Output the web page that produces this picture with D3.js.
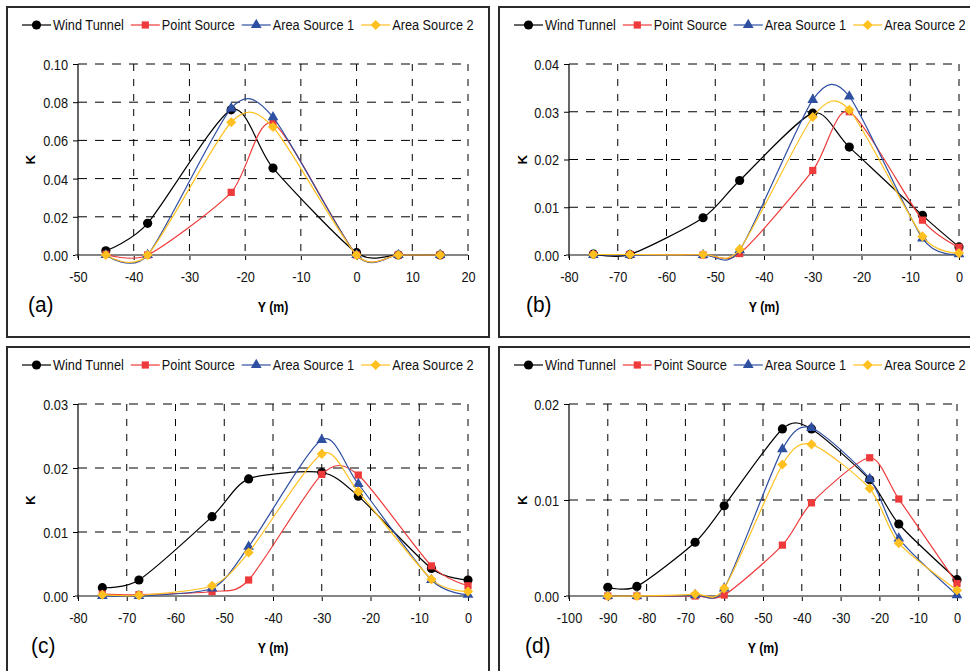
<!DOCTYPE html>
<html>
<head>
<meta charset="utf-8">
<script src="https://cdn.jsdelivr.net/npm/d3@7"></script>
<style>
  body { margin: 0; background: #fff; }
  text { font-family: "Liberation Sans", Arial, sans-serif; }
</style>
</head>
<body>
<script>
// series names (legend order)
const seriesNames = ["Wind Tunnel", "Point Source", "Area Source 1", "Area Source 2"];

// (a)
const yPosA = [-45, -37.5, -22.5, -15, 0, 7.5, 15];
const windA = [0.0022, 0.0166, 0.0760, 0.0455, 0.0012, 0.0, 0.0];
const pointA = [0.0004, 0.0, 0.0328, 0.0690, 0.0, 0.0, 0.0];
const area1A = [0.0, 0.0, 0.0768, 0.0722, 0.0, 0.0, 0.0];
const area2A = [0.0, 0.0, 0.0695, 0.0670, 0.0, 0.0, 0.0];
const xTicksA = [-50, -40, -30, -20, -10, 0, 10, 20];
const yTicksA = [0, 0.02, 0.04, 0.06, 0.08, 0.10];

// (b)
const yPosB = [-75, -67.5, -52.5, -45, -30, -22.5, -7.5, 0];
const windB = [0.0002, 0.0001, 0.0078, 0.0156, 0.0297, 0.0226, 0.0083, 0.0017];
const pointB = [0.0001, 0.0001, 0.0, 0.0003, 0.0177, 0.0300, 0.0073, 0.0016];
const area1B = [0.0, 0.0, 0.0, 0.0010, 0.0325, 0.0332, 0.0035, 0.0002];
const area2B = [0.0001, 0.0001, 0.0001, 0.0012, 0.0289, 0.0304, 0.0039, 0.0004];
const xTicksB = [-80, -70, -60, -50, -40, -30, -20, -10, 0];
const yTicksB = [0, 0.01, 0.02, 0.03, 0.04];

// (c)
const yPosC = [-75, -67.5, -52.5, -45, -30, -22.5, -7.5, 0];
const windC = [0.0013, 0.0025, 0.0124, 0.0183, 0.0193, 0.0156, 0.0043, 0.0025];
const pointC = [0.0003, 0.0002, 0.0007, 0.0025, 0.0190, 0.0189, 0.0047, 0.0016];
const area1C = [0.0, 0.0, 0.0012, 0.0077, 0.0244, 0.0175, 0.0025, 0.0002];
const area2C = [0.0002, 0.0001, 0.0016, 0.0068, 0.0222, 0.0163, 0.0026, 0.0007];
const xTicksC = [-80, -70, -60, -50, -40, -30, -20, -10, 0];
const yTicksC = [0, 0.01, 0.02, 0.03];

// (d)
const yPosD = [-90, -82.5, -67.5, -60, -45, -37.5, -22.5, -15, 0];
const windD = [0.0009, 0.0010, 0.0056, 0.0094, 0.0174, 0.0174, 0.0121, 0.0075, 0.0017];
const pointD = [0.0, 0.0, 0.0, 0.0001, 0.0053, 0.0097, 0.0144, 0.0101, 0.0013];
const area1D = [0.0, 0.0, 0.0001, 0.0008, 0.0153, 0.0175, 0.0122, 0.0060, 0.0001];
const area2D = [0.0, 0.0, 0.0002, 0.0008, 0.0137, 0.0158, 0.0112, 0.0055, 0.0006];
const xTicksD = [-100, -90, -80, -70, -60, -50, -40, -30, -20, -10, 0];
const yTicksD = [0, 0.01, 0.02];

const colors = ["#000000", "#ee3a3a", "#2f4fa2", "#ffc020"];
const FS = 15;
const SX = 0.85; // text in the original is tall and narrow

const panels = [
  { label: "(a)", box: [7, 7], plot: [78, 468, 64, 255], labelX: 28,
    xDomain: [-50, 20], yDomain: [0, 0.10], xTicks: xTicksA, yTicks: yTicksA,
    xs: yPosA, series: [windA, pointA, area1A, area2A] },
  { label: "(b)", box: [499, 7], plot: [569, 959, 64, 255], labelX: 526,
    xDomain: [-80, 0], yDomain: [0, 0.04], xTicks: xTicksB, yTicks: yTicksB,
    xs: yPosB, series: [windB, pointB, area1B, area2B] },
  { label: "(c)", box: [7, 347], plot: [78, 468, 404, 596], labelX: 31,
    xDomain: [-80, 0], yDomain: [0, 0.03], xTicks: xTicksC, yTicks: yTicksC,
    xs: yPosC, series: [windC, pointC, area1C, area2C] },
  { label: "(d)", box: [499, 347], plot: [569, 957, 404, 596], labelX: 525,
    xDomain: [-100, 0], yDomain: [0, 0.02], xTicks: xTicksD, yTicks: yTicksD,
    xs: yPosD, series: [windD, pointD, area1D, area2D] },
];

const svg = d3.select("body").append("svg").attr("width", 970).attr("height", 671);

function marker(sel, i) {
  if (i === 0) {
    sel.append("circle").attr("r", 4.6).attr("fill", colors[0]);
  } else if (i === 1) {
    sel.append("rect").attr("x", -3.6).attr("y", -3.6).attr("width", 7.2).attr("height", 7.2)
      .attr("fill", colors[1]);
  } else if (i === 2) {
    sel.append("path").attr("d", d3.symbol(d3.symbolTriangle, 50)()).attr("fill", colors[2]);
  } else {
    sel.append("rect").attr("x", -3.6).attr("y", -3.6).attr("width", 7.2).attr("height", 7.2)
      .attr("transform", "rotate(45)").attr("fill", colors[3]);
  }
}

panels.forEach((p) => {
  const [px0, px1, py0, py1] = p.plot;
  const g = svg.append("g");

  g.append("rect")
    .attr("x", p.box[0]).attr("y", p.box[1])
    .attr("width", 482).attr("height", 330)
    .attr("fill", "#fff").attr("stroke", "#2b2b2b").attr("stroke-width", 2);

  const x = d3.scaleLinear().domain(p.xDomain).range([px0, px1]);
  const y = d3.scaleLinear().domain(p.yDomain).range([py1, py0]);

  // dashed grid
  g.selectAll(".hgrid")
    .data(p.yTicks.slice(1))
    .enter()
    .append("line")
    .attr("x1", px0).attr("x2", px1)
    .attr("y1", (d) => y(d)).attr("y2", (d) => y(d))
    .attr("stroke", "#000").attr("stroke-dasharray", "9,8");

  g.selectAll(".vgrid")
    .data(p.xTicks.slice(1))
    .enter()
    .append("line")
    .attr("x1", (d) => x(d)).attr("x2", (d) => x(d))
    .attr("y1", py0).attr("y2", py1)
    .attr("stroke", "#000").attr("stroke-dasharray", "7,8");

  // y axis
  const yAxis = d3.axisLeft(y).tickValues(p.yTicks).tickFormat(d3.format(".2f"))
    .tickSize(5).tickSizeOuter(0).tickPadding(5);
  const ya = g.append("g").attr("transform", `translate(${px0},0)`).call(yAxis);
  ya.select(".domain").remove();
  ya.selectAll("line").attr("stroke", "#000");
  ya.selectAll("text")
    .attr("font-size", FS).attr("font-family", "Liberation Sans, Arial")
    .attr("x", -10 / SX).attr("dy", "0.36em")
    .attr("transform", `scale(${SX},1)`).attr("fill", "#111");

  // x axis (gray zero line)
  const xAxis = d3.axisBottom(x).tickValues(p.xTicks).tickFormat((d) => String(d))
    .tickSize(5).tickSizeOuter(0).tickPadding(11);
  const xa = g.append("g").attr("transform", `translate(0,${py1})`).call(xAxis);
  xa.select(".domain").remove();
  xa.selectAll("line").attr("stroke", "#000");
  xa.selectAll("text")
    .attr("font-size", FS).attr("font-family", "Liberation Sans, Arial")
    .attr("transform", `scale(${SX},1)`).attr("fill", "#111");

  g.append("line")
    .attr("x1", px0 - 3).attr("x2", px1).attr("y1", py1).attr("y2", py1)
    .attr("stroke", "#858585").attr("stroke-width", 2);
  g.append("line")
    .attr("x1", px0).attr("x2", px0).attr("y1", py0).attr("y2", py1 + 3)
    .attr("stroke", "#000").attr("stroke-width", 1.2);

  // axis titles
  g.append("text")
    .attr("transform", `translate(${(px0 + px1) / 2},${py1 + 57}) scale(${SX},1)`)
    .attr("text-anchor", "middle").attr("font-weight", "bold").attr("font-size", 14.5)
    .text("Y (m)");
  g.append("text")
    .attr("transform", `translate(${p.box[0] + 28},${(py0 + py1) / 2}) rotate(-90)`)
    .attr("text-anchor", "middle").attr("font-weight", "bold").attr("font-size", 13.5)
    .text("K");

  g.append("text")
    .attr("transform", `translate(${p.labelX},${py1 + 57}) scale(0.95,1)`)
    .attr("font-family", "Liberation Serif, Times New Roman, serif")
    .attr("font-size", 22)
    .text(p.label);

  // series
  const line = d3.line()
    .x((d) => x(d[0]))
    .y((d) => y(d[1]))
    .curve(d3.curveCardinal.tension(0.25));

  p.series.forEach((vals, i) => {
    const pts = p.xs.map((v, k) => [v, vals[k]]);
    g.append("path")
      .attr("d", line(pts))
      .attr("fill", "none")
      .attr("stroke", colors[i])
      .attr("stroke-width", 1.2);
    g.selectAll(".m" + i)
      .data(pts)
      .enter()
      .append("g")
      .attr("transform", (d) => `translate(${x(d[0])},${y(d[1])})`)
      .each(function () { marker(d3.select(this), i); });
  });

  // legend
  const lg = g.append("g").attr("transform", `translate(${p.box[0] + 15},${p.box[1] + 18})`);
  let cx = 0;
  seriesNames.forEach((name, i) => {
    const it = lg.append("g").attr("transform", `translate(${cx},0)`);
    it.append("line").attr("x1", 0).attr("x2", 29).attr("y1", 0).attr("y2", 0)
      .attr("stroke", colors[i]).attr("stroke-width", 1.2);
    const m = it.append("g").attr("transform", "translate(14.5,0)");
    marker(m, i);
    const t = it.append("text")
      .attr("transform", `translate(31,0) scale(${SX},1)`)
      .attr("dy", "0.36em").attr("font-size", FS).attr("fill", "#111")
      .text(name);
    cx += 31 + t.node().getComputedTextLength() * SX + 7;
  });
});
</script>
</body>
</html>
